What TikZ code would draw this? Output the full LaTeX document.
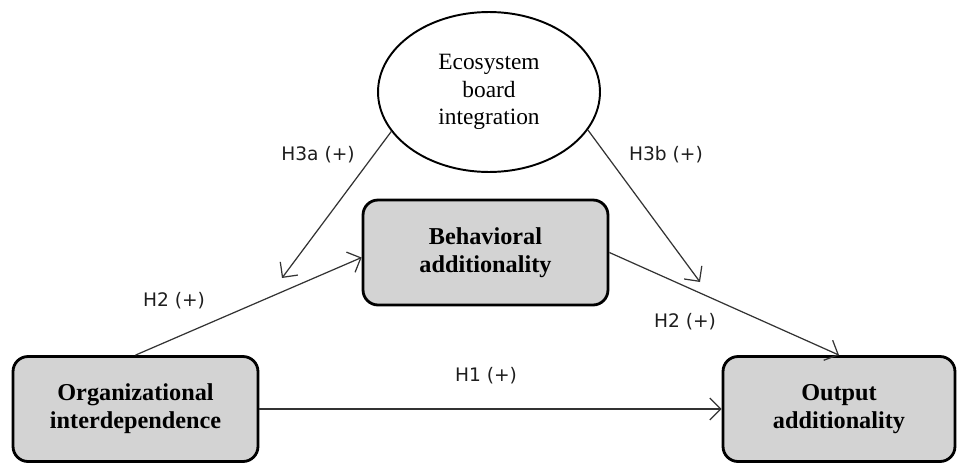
\documentclass[tikz,border=0pt]{standalone}
\usepackage{fontspec}
\setmainfont{Liberation Serif}
\newfontfamily\hypfont{DejaVu Sans}
\usetikzlibrary{shapes.geometric,arrows.meta,positioning}
\definecolor{boxfill}{HTML}{D3D3D3}
\definecolor{linegray}{HTML}{333333}
\definecolor{labelgray}{HTML}{1E1E1E}

\begin{document}
\begin{tikzpicture}[x=0.02cm, y=-0.02cm,
    varbox/.style={draw=black, line width=1.6pt, fill=boxfill, rounded corners=0.3cm,
        minimum width=4.9cm, minimum height=2.1cm, align=center,
        font=\fontsize{13.8}{16}\selectfont\bfseries},
    modbox/.style={draw=black, line width=1.1pt, ellipse, minimum width=4.44cm,
        minimum height=3.2cm, inner sep=0pt, align=center,
        font=\fontsize{13.3}{15.5}\selectfont},
    hyp/.style={draw=linegray, line width=0.7pt, -{Straight Barb[length=2.2mm,width=4.4mm]}},
    hyplabel/.style={text=labelgray, inner sep=0pt, font=\hypfont\fontsize{10.6}{12}\selectfont}]
    \useasboundingbox (0,0) rectangle (957,463);

    % Variables
    \node[modbox] (eco) at (489,92) {Ecosystem\\board\\integration};
    \node[varbox] (behav) at (485.5,252.5) {Behavioral\\additionality};
    \node[varbox] (org) at (135.5,409) {Organizational\\interdependence};
    \node[varbox, minimum width=4.64cm] (out) at (839,409) {Output\\additionality};

    % Hypotheses
    \coordinate (h3aend) at (282,278);
    \coordinate (h3bend) at (700,282);
    \draw[hyp] (org.north) -- ([yshift=-0.1cm]behav.west);
    \draw[hyp] (behav.east) -- (out.north);
    \draw[hyp] (org) -- (out);
    \draw[hyp] (eco.202) -- (h3aend);
    \draw[hyp] (eco.339) -- (h3bend);

    \node[hyplabel] (lh3a) at (318,155) {H3a (+)};
    \node[hyplabel] (lh3b) at (666,155) {H3b (+)};
    \node[hyplabel] (lh2a) at (174,301) {H2 (+)};
    \node[hyplabel] (lh2b) at (685,322) {H2 (+)};
    \node[hyplabel] (lh1) at (486,376) {H1 (+)};

\end{tikzpicture}
\end{document}
